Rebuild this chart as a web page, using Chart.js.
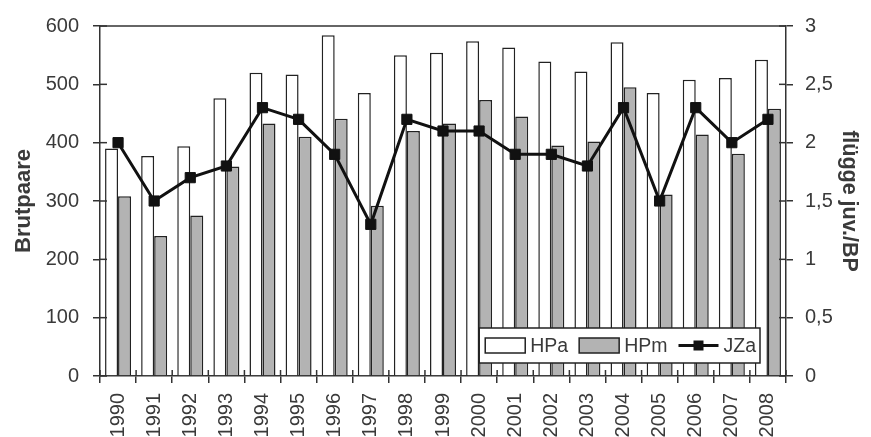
<!DOCTYPE html>
<html>
<head>
<meta charset="utf-8">
<script src="https://cdn.jsdelivr.net/npm/chart.js@4/dist/chart.umd.min.js"></script>
<style>
  html, body { margin: 0; padding: 0; background: #fff; }
  #wrap { width: 871px; height: 437px; position: relative; }
</style>
</head>
<body>
<div id="wrap"><canvas id="c" width="871" height="437"></canvas></div>
<script>
const years = ['1990','1991','1992','1993','1994','1995','1996','1997','1998','1999','2000','2001','2002','2003','2004','2005','2006','2007','2008'];
const hpa = [390, 377, 394, 476, 520, 517, 584, 485, 550, 554, 574, 563, 539, 522, 572, 485, 508, 511, 542];
const hpm = [308, 240, 275, 359, 433, 410, 441, 292, 420, 433, 473, 445, 395, 402, 495, 311, 414, 381, 458];
const jza = [2.0, 1.5, 1.7, 1.8, 2.3, 2.2, 1.9, 1.3, 2.2, 2.1, 2.1, 1.9, 1.9, 1.8, 2.3, 1.5, 2.3, 2.0, 2.2];
const leftTickLabels = ['0','100','200','300','400','500','600'];
const rightTickLabels = ['0','0,5','1','1,5','2','2,5','3'];
const seriesNames = ['HPa', 'HPm', 'JZa'];
const leftTitle = 'Brutpaare';
const rightTitle = 'flügge juv./BP';

const FONT = '"Liberation Sans", Arial, sans-serif';
const AX = '#333333';
const TXT = '#3a3a3a';

const innerTicks = {
  id: 'innerTicks',
  afterDraw(chart) {
    const ctx = chart.ctx, ca = chart.chartArea;
    ctx.save();
    ctx.strokeStyle = AX; ctx.lineWidth = 1.5;
    ctx.beginPath(); ctx.moveTo(ca.left, ca.top); ctx.lineTo(ca.right, ca.top); ctx.stroke();
    const y = chart.scales.y, y2 = chart.scales.y2, x = chart.scales.x;
    y.ticks.forEach((t, i) => {
      const p = y.getPixelForTick(i);
      ctx.beginPath(); ctx.moveTo(ca.left, p); ctx.lineTo(ca.left + 7, p); ctx.stroke();
    });
    y2.ticks.forEach((t, i) => {
      const p = y2.getPixelForTick(i);
      ctx.beginPath(); ctx.moveTo(ca.right - 7, p); ctx.lineTo(ca.right, p); ctx.stroke();
    });
    const n = years.length;
    for (let i = 0; i <= n; i++) {
      const p = x.left + i * (x.width / n);
      ctx.beginPath(); ctx.moveTo(p, ca.bottom - 6); ctx.lineTo(p, ca.bottom); ctx.stroke();
    }
    ctx.restore();
  }
};

const boxLegend = {
  id: 'boxLegend',
  afterDraw(chart) {
    const ctx = chart.ctx, ca = chart.chartArea;
    ctx.save();
    ctx.font = '19.5px ' + FONT;
    const ds = chart.data.datasets;
    const sw = 40, gapT = 5, gapItem = 11, padL = 6, padR = 4, h = 35;
    let total = padL + padR;
    ds.forEach((d, i) => { total += sw + gapT + ctx.measureText(d.label).width + (i < ds.length - 1 ? gapItem : 0); });
    const right = ca.right - 26, bottom = ca.bottom - 13;
    const left = right - total, top = bottom - h;
    ctx.fillStyle = '#fff';
    ctx.fillRect(left, top, total, h);
    ctx.strokeStyle = '#222'; ctx.lineWidth = 1.5;
    ctx.strokeRect(left, top, total, h);
    let xx = left + padL;
    const cy = top + h / 2;
    ds.forEach((d, i) => {
      if (d.type === 'line') {
        ctx.strokeStyle = d.borderColor; ctx.lineWidth = 3;
        ctx.beginPath(); ctx.moveTo(xx, cy); ctx.lineTo(xx + sw, cy); ctx.stroke();
        ctx.fillStyle = d.borderColor;
        ctx.fillRect(xx + sw / 2 - 5, cy - 5, 10, 10);
      } else {
        ctx.fillStyle = d.backgroundColor;
        ctx.fillRect(xx, cy - 7.5, sw, 15);
        ctx.strokeStyle = '#222'; ctx.lineWidth = 1.5;
        ctx.strokeRect(xx, cy - 7.5, sw, 15);
      }
      xx += sw + gapT;
      ctx.fillStyle = TXT; ctx.textBaseline = 'middle'; ctx.textAlign = 'left';
      ctx.fillText(d.label, xx, cy + 1);
      xx += ctx.measureText(d.label).width + gapItem;
    });
    ctx.restore();
  }
};

new Chart(document.getElementById('c'), {
  type: 'bar',
  data: {
    labels: years,
    datasets: [
      { label: seriesNames[0], data: hpa, yAxisID: 'y', order: 1,
        backgroundColor: '#ffffff', borderColor: '#222', borderWidth: 1.5,
        categoryPercentage: 0.72, barPercentage: 1.0 },
      { label: seriesNames[1], data: hpm, yAxisID: 'y', order: 2,
        backgroundColor: '#b3b3b3', borderColor: '#222', borderWidth: 1.5,
        categoryPercentage: 0.72, barPercentage: 1.0 },
      { type: 'line', label: seriesNames[2], data: jza, yAxisID: 'y2', order: 0,
        borderColor: '#111', backgroundColor: '#111', borderWidth: 3, tension: 0,
        pointStyle: 'rect', pointRadius: 7.2, pointBorderWidth: 1, pointBackgroundColor: '#111', pointBorderColor: '#111' }
    ]
  },
  options: {
    responsive: false,
    animation: false,
    events: [],
    layout: { padding: { top: 25, left: 0, right: 0, bottom: 0 } },
    plugins: { legend: { display: false }, tooltip: { enabled: false } },
    scales: {
      x: {
        position: 'bottom',
        grid: { display: true, drawOnChartArea: false, offset: true, tickLength: 7, color: AX, lineWidth: 1.5 },
        border: { display: true, color: AX, width: 1.5 },
        ticks: { color: TXT, font: { family: FONT, size: 20 }, minRotation: 90, maxRotation: 90, padding: 10, autoSkip: false },
        afterFit: s => { s.height = 61; }
      },
      y: {
        position: 'left', min: 0, max: 600,
        grid: { display: true, drawOnChartArea: false, tickLength: 7, color: AX, lineWidth: 1.5 },
        border: { display: true, color: AX, width: 1.5 },
        ticks: { stepSize: 100, color: TXT, font: { family: FONT, size: 20 }, padding: 14,
                 callback: (v, i) => leftTickLabels[i] },
        title: { display: true, text: leftTitle, color: TXT, font: { family: FONT, size: 22, weight: 'bold' }, padding: { top: 11, bottom: 0 } },
        afterFit: s => { s.width = 100; }
      },
      y2: {
        position: 'right', min: 0, max: 3,
        grid: { display: true, drawOnChartArea: false, tickLength: 7, color: AX, lineWidth: 1.5 },
        border: { display: true, color: AX, width: 1.5 },
        ticks: { stepSize: 0.5, color: TXT, font: { family: FONT, size: 20 }, padding: 12,
                 callback: (v, i) => rightTickLabels[i] },
        title: { display: true, text: rightTitle, color: TXT, font: { family: FONT, size: 21.5, weight: 'bold' }, padding: { top: 9, bottom: 0 } },
        afterFit: s => { s.width = 85; }
      }
    }
  },
  plugins: [innerTicks, boxLegend]
});
</script>
</body>
</html>
